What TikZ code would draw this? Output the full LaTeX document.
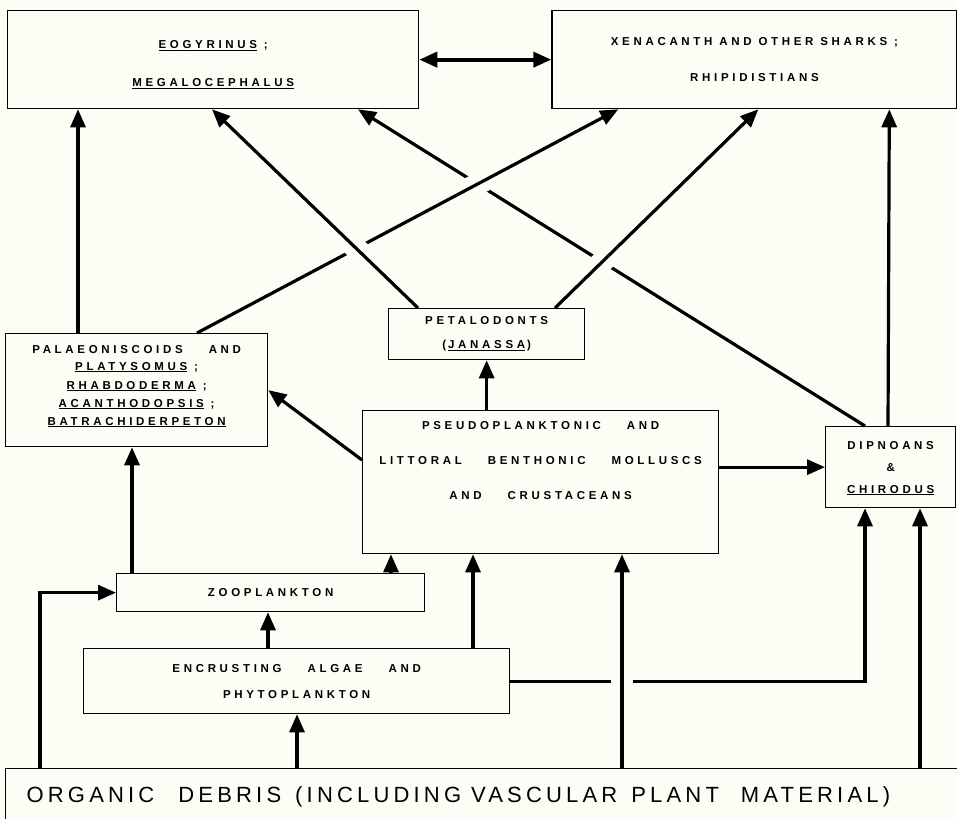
\documentclass[tikz,border=0pt]{standalone}
\usepackage{fontspec}
\usepackage{tikz}
\usetikzlibrary{arrows.meta,positioning,calc}
\newfontfamily\lblfont[LetterSpace=32]{Liberation Sans}
\newfontfamily\debrisfont[LetterSpace=19]{Liberation Sans}
\definecolor{paper}{RGB}{254,253,245}
\newcommand{\wgap}{\hspace{26pt}}

\begin{document}
\begin{tikzpicture}[
  x=1pt, y=-1pt,
  >={Triangle[length=18pt,width=15pt]},
  box/.style={draw, line width=1.3pt, fill=paper, inner sep=0pt, align=center,
              font=\lblfont\bfseries\fontsize{11.5}{14}\selectfont},
  arr/.style={line width=3.2pt, ->},
  halo/.style={draw=paper, line width=22pt, shorten <=30pt, shorten >=30pt},
]
  \useasboundingbox (0,0) rectangle (957,818);
  \fill[paper] (0,0) rectangle (957,818);

  % Top row
  \node[box, minimum width=411pt, minimum height=98pt, anchor=north west, text height=56pt] (eog) at (7,10)
    {\underline{EOGYRINUS} ;\\[24pt]\underline{MEGALOCEPHALUS}};
  \node[box, minimum width=405pt, minimum height=98pt, right=132pt of eog] (xen)
    {XENACANTH AND OTHER SHARKS ;\\[22pt]RHIPIDISTIANS};

  % Middle row
  \node[box, minimum width=262pt, minimum height=113pt, anchor=north west, text depth=10pt] (pal) at (5,333)
    {PALAEONISCOIDS\wgap AND\\[3pt]\underline{PLATYSOMUS} ;\\[5pt]\underline{RHABDODERMA} ;\\[4pt]%
     \underline{ACANTHODOPSIS} ;\\[4pt]\underline{BATRACHIDERPETON}};
  \node[box, minimum width=196pt, minimum height=51pt, anchor=north west] (pet) at (388,308)
    {PETALODONTS\\[10pt](\,\underline{JANASSA}\,)};
  \node[box, minimum width=356pt, minimum height=143pt, anchor=north west, text depth=44pt] (pseudo) at (362,410)
    {PSEUDOPLANKTONIC\wgap AND\\[21pt]LITTORAL\wgap BENTHONIC\wgap MOLLUSCS\\[21pt]AND\wgap CRUSTACEANS};
  \node[box, minimum width=130pt, minimum height=81pt, anchor=north west, text depth=0pt] (dip) at (825,426)
    {DIPNOANS\\[8pt]\&\\[8pt]\underline{CHIRODUS}};

  % Lower row
  \node[box, minimum width=308pt, minimum height=38pt, anchor=north west] (zoo) at (116,573)
    {ZOOPLANKTON};
  \node[box, minimum width=426pt, minimum height=65pt, anchor=north west] (enc) at (83,648)
    {ENCRUSTING\wgap ALGAE\wgap AND\\[12pt]PHYTOPLANKTON};
  \node[box, minimum height=56pt, text width=960pt, inner xsep=21pt, align=left,
        font=\debrisfont\fontsize{22}{26}\selectfont, anchor=north west] (org) at (5,768)
    {ORGANIC\hspace{24pt}DEBRIS\hspace{14pt}(INCLUDING\hspace{10pt}VASCULAR\hspace{14pt}PLANT\hspace{22pt}MATERIAL)};

  % Edges into the top row
  \draw[arr, <->, line width=4pt] (eog) -- (xen);
  \draw[arr] ($(pal.north west)+(73,0)$) -- ($(eog.south west)+(71,0)$);
  \draw[arr] ($(dip.north west)+(63,0)$) -- ($(xen.south west)+(338,0)$);
  \draw[arr] ($(dip.north west)+(40,0)$) -- ($(eog.south west)+(351,0)$);
  \path[halo] ($(pal.north west)+(192,0)$) -- ($(xen.south west)+(67,0)$);
  \draw[arr] ($(pal.north west)+(192,0)$) -- ($(xen.south west)+(67,0)$);
  \path[halo] ($(pet.north west)+(167,0)$) -- ($(xen.south west)+(207,0)$);
  \draw[arr] ($(pet.north west)+(167,0)$) -- ($(xen.south west)+(207,0)$);
  \path[halo] ($(pet.north west)+(30,0)$) -- ($(eog.south west)+(205,0)$);
  \draw[arr] ($(pet.north west)+(30,0)$) -- ($(eog.south west)+(205,0)$);

  % Molluscs and crustaceans
  \draw[arr] (pet.south |- pseudo.north) -- (pet.south);
  \draw[arr] ($(pseudo.north west)+(0,50)$) -- (pal.east);
  \draw[arr] (pseudo.east |- dip.west) -- (dip.west);

  % Plankton
  \draw[arr] ($(zoo.north west)+(16,0)$) -- ($(pal.south west)+(127,0)$);
  \draw[arr] ($(zoo.north west)+(275,0)$) -- ($(pseudo.south west)+(29,0)$);
  \draw[arr] ($(enc.north west)+(185,0)$) -- ($(zoo.south west)+(152,0)$);
  \draw[arr] ($(enc.north west)+(390,0)$) -- ($(pseudo.south west)+(111,0)$);
  \draw[arr] (enc.east) -| ($(dip.south west)+(40,0)$);

  % Debris
  \draw[arr] ($(org.north west)+(35,0)$) |- (zoo.west);
  \draw[arr] ($(org.north west)+(292,0)$) -- ($(enc.south west)+(214,0)$);
  \path[halo] ($(org.north west)+(617,0)$) -- ($(pseudo.south west)+(260,0)$);
  \draw[arr] ($(org.north west)+(617,0)$) -- ($(pseudo.south west)+(260,0)$);
  \draw[arr] ($(org.north west)+(915,0)$) -- ($(dip.south west)+(95,0)$);
\end{tikzpicture}
\end{document}
